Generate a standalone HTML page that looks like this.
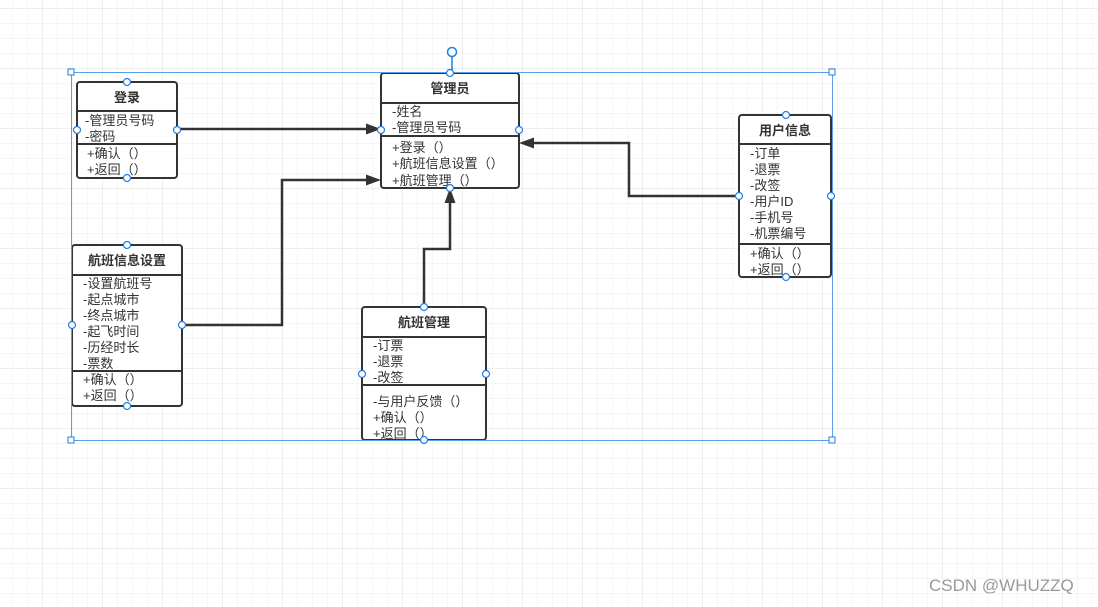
<!DOCTYPE html>
<html><head><meta charset="utf-8"><style>
html,body{margin:0;padding:0;width:1098px;height:607px;overflow:hidden;background:#fff}
svg text{font-family:"Liberation Sans","Noto Sans CJK SC",sans-serif;fill:#333}
</style></head><body>
<svg width="1098" height="607" xmlns="http://www.w3.org/2000/svg">
<defs>
<pattern id="minor" x="12" y="8" width="15" height="15" patternUnits="userSpaceOnUse">
<path d="M0 0H15M0 0V15" stroke="#ececec" stroke-width="1" fill="none"/></pattern>
<pattern id="major" x="42" y="8" width="60" height="60" patternUnits="userSpaceOnUse">
<path d="M0 0H60M0 0V60" stroke="#dedede" stroke-width="1" fill="none"/></pattern>
</defs>
<rect width="1098" height="607" fill="url(#minor)"/>
<rect width="1098" height="607" fill="url(#major)"/>

<!-- connectors -->
<g stroke="#333" stroke-width="2.5" fill="none" stroke-linejoin="miter">
<path d="M177 129H372"/>
<path d="M182 325H282V180H372"/>
<path d="M424 307V249H450V197"/>
<path d="M739 196H629V143H528"/>
</g>
<g fill="#333">
<path d="M381 129L366 123.5V134.5Z"/>
<path d="M381 180L366 174.5V185.5Z"/>
<path d="M450 188L444.5 203H455.5Z"/>
<path d="M519 143L534 137.5V148.5Z"/>
</g>

<!-- boxes -->
<g fill="#fff" stroke="#333" stroke-width="2">
<rect x="77" y="82" width="100" height="96" rx="3"/>
<rect x="381" y="73" width="138" height="115" rx="3"/>
<rect x="72" y="245" width="110" height="161" rx="3"/>
<rect x="362" y="307" width="124" height="133" rx="3"/>
<rect x="739" y="115" width="92" height="162" rx="3"/>
</g>
<g stroke="#333" stroke-width="2">
<path d="M77 111H177M77 144H177"/>
<path d="M381 103H519M381 136H519"/>
<path d="M72 275H182M72 371H182"/>
<path d="M362 337H486M362 385H486"/>
<path d="M739 144H831M739 244H831"/>
</g>

<g font-size="13">
<text x="127" y="102" text-anchor="middle" font-weight="bold">登录</text>
<text x="85" y="125">-管理员号码</text>
<text x="85" y="141">-密码</text>
<text x="87" y="158">+确认（）</text>
<text x="87" y="174">+返回（）</text>

<text x="450" y="93" text-anchor="middle" font-weight="bold">管理员</text>
<text x="392" y="116">-姓名</text>
<text x="392" y="132">-管理员号码</text>
<text x="392" y="152">+登录（）</text>
<text x="392" y="168">+航班信息设置（）</text>
<text x="392" y="185">+航班管理（）</text>

<text x="127" y="265" text-anchor="middle" font-weight="bold">航班信息设置</text>
<text x="83" y="288">-设置航班号</text>
<text x="83" y="304">-起点城市</text>
<text x="83" y="320">-终点城市</text>
<text x="83" y="336">-起飞时间</text>
<text x="83" y="352">-历经时长</text>
<text x="83" y="368">-票数</text>
<text x="83" y="384">+确认（）</text>
<text x="83" y="400">+返回（）</text>

<text x="424" y="327" text-anchor="middle" font-weight="bold">航班管理</text>
<text x="373" y="350">-订票</text>
<text x="373" y="366">-退票</text>
<text x="373" y="382">-改签</text>
<text x="373" y="406">-与用户反馈（）</text>
<text x="373" y="422">+确认（）</text>
<text x="373" y="438">+返回（）</text>

<text x="785" y="135" text-anchor="middle" font-weight="bold">用户信息</text>
<text x="750" y="158">-订单</text>
<text x="750" y="174">-退票</text>
<text x="750" y="190">-改签</text>
<text x="750" y="206">-用户ID</text>
<text x="750" y="222">-手机号</text>
<text x="750" y="238">-机票编号</text>
<text x="750" y="258">+确认（）</text>
<text x="750" y="274">+返回（）</text>
</g>

<!-- selection -->
<rect x="71.5" y="72.5" width="761" height="368" fill="none" stroke="#5a9ee8" stroke-width="1"/>
<path d="M452 57V72" stroke="#1e7fe6" stroke-width="1.5"/>
<circle cx="452" cy="52" r="4.5" fill="#fff" stroke="#1e7fe6" stroke-width="1.5"/>
<g fill="#fff" stroke="#1e7fe6" stroke-width="1">
<rect x="68" y="69" width="6" height="6"/><rect x="829" y="69" width="6" height="6"/>
<rect x="68" y="437" width="6" height="6"/><rect x="829" y="437" width="6" height="6"/>
</g>
<g fill="#fff" stroke="#1e7fe6" stroke-width="1.2">
<circle cx="127" cy="82" r="3.5"/><circle cx="127" cy="178" r="3.5"/><circle cx="77" cy="130" r="3.5"/><circle cx="177" cy="130" r="3.5"/>
<circle cx="450" cy="73" r="3.5"/><circle cx="450" cy="188" r="3.5"/><circle cx="381" cy="130" r="3.5"/><circle cx="519" cy="130" r="3.5"/>
<circle cx="127" cy="245" r="3.5"/><circle cx="127" cy="406" r="3.5"/><circle cx="72" cy="325" r="3.5"/><circle cx="182" cy="325" r="3.5"/>
<circle cx="424" cy="307" r="3.5"/><circle cx="424" cy="440" r="3.5"/><circle cx="362" cy="374" r="3.5"/><circle cx="486" cy="374" r="3.5"/>
<circle cx="786" cy="115" r="3.5"/><circle cx="786" cy="277" r="3.5"/><circle cx="739" cy="196" r="3.5"/><circle cx="831" cy="196" r="3.5"/>
</g>

<text x="929" y="591" font-size="17" style="fill:#999">CSDN @WHUZZQ</text>
</svg>
</body></html>
